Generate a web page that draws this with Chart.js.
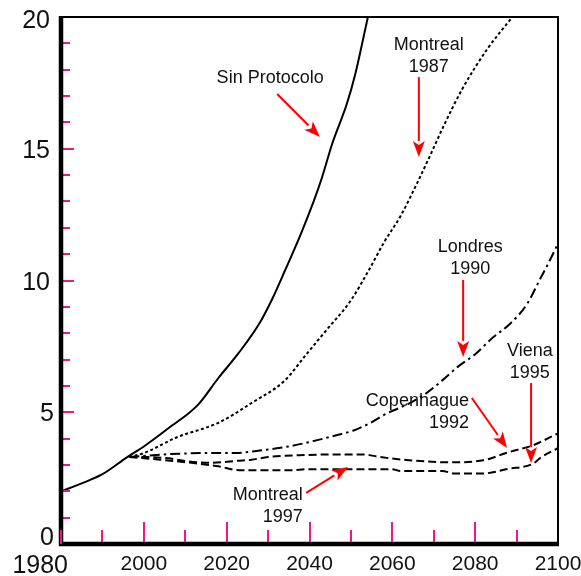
<!DOCTYPE html>
<html>
<head>
<meta charset="utf-8">
<script src="https://cdn.jsdelivr.net/npm/chart.js@4.4.1/dist/chart.umd.min.js"></script>
<style>
  html, body { margin: 0; padding: 0; background: #fff; }
  canvas { display: block; }
</style>
</head>
<body>
<canvas id="chart" width="581" height="576"></canvas>
<script>
// ===== DATA =====
const sinYears = [1980, 1985, 1990, 1996, 2000, 2006, 2013, 2018, 2023, 2028, 2031, 2034, 2038, 2041, 2043, 2045.5, 2049, 2051, 2054.1];
const sinVals  = [2.0, 2.3, 2.65, 3.3, 3.7, 4.4, 5.27, 6.3, 7.27, 8.4, 9.3, 10.35, 11.8, 13.0, 13.9, 15.2, 16.7, 17.8, 20];

const m87Years = [1996.5, 2000, 2008, 2018, 2026, 2034, 2039, 2044, 2050, 2054, 2058, 2062, 2066, 2069, 2072.5, 2077, 2083, 2089];
const m87Vals  = [3.3, 3.45, 4.05, 4.6, 5.35, 6.2, 7.15, 8.1, 9.25, 10.3, 11.45, 12.45, 13.7, 14.7, 15.9, 17.3, 18.8, 20];

const lonYears = [1996.5, 2005, 2015, 2022, 2028, 2033, 2039.5, 2046.5, 2050.5, 2054.5, 2058, 2064, 2068, 2072, 2076, 2080, 2084, 2088.5, 2092.5, 2095.5, 2097.5, 2100];
const lonVals  = [3.3, 3.4, 3.45, 3.45, 3.55, 3.65, 3.85, 4.13, 4.3, 4.58, 4.9, 5.33, 5.7, 6.2, 6.75, 7.2, 7.8, 8.37, 9.1, 10.0, 10.6, 11.4];

const copYears = [1996.5, 2000, 2006, 2010, 2016, 2022, 2026, 2030, 2037.5, 2049, 2053, 2057, 2064, 2074, 2082, 2088, 2094, 2100];
const copVals  = [3.3, 3.3, 3.25, 3.15, 3.08, 3.15, 3.2, 3.3, 3.37, 3.4, 3.4, 3.3, 3.18, 3.1, 3.18, 3.48, 3.75, 4.2];

const m97Years = [1996.5, 2004, 2012, 2018, 2023, 2035, 2040, 2060, 2062, 2072, 2075, 2082, 2088, 2094, 2096, 2100];
const m97Vals  = [3.3, 3.2, 3.07, 2.95, 2.8, 2.8, 2.84, 2.84, 2.77, 2.77, 2.68, 2.68, 2.85, 3.05, 3.3, 3.64];

const xTickLabels = ['1980', '2000', '2020', '2040', '2060', '2080', '2100'];
const yTickLabels = ['0', '5', '10', '15', '20'];

// annotations: text lines anchored in data units, arrow from -> to
const notes = [
  { text: ['Sin Protocolo'], at: [2030.5, 17.5], align: 'center', arrow: [[2032.2, 17.08], [2042.5, 15.45]] },
  { text: ['Montreal', '1987'], at: [2068.8, 18.75], align: 'center', arrow: [[2066.4, 17.72], [2066.4, 14.69]] },
  { text: ['Londres', '1990'], at: [2078.8, 11.08], align: 'center', arrow: [[2077.1, 10.02], [2077.1, 7.1]] },
  { text: ['Viena', '1995'], at: [2093.2, 7.13], align: 'center', arrow: [[2093.5, 6.11], [2093.5, 3.07]] },
  { text: ['Copenhague', '1992'], at: [2078.5, 5.24], align: 'right', arrow: [[2079.2, 5.54], [2087.7, 3.64]] },
  { text: ['Montreal', '1997'], at: [2038.4, 1.67], align: 'right', arrow: [[2039.2, 1.94], [2049.3, 2.92]] }
];

const FONT = '"Liberation Sans", Arial, sans-serif';
const PINK = '#f2148a';

function pts(years, vals) {
  return years.map((x, i) => ({ x: x, y: vals[i] }));
}

function line(years, vals, dash) {
  return {
    data: pts(years, vals),
    borderColor: '#000',
    borderWidth: 2,
    borderDash: dash,
    pointRadius: 0,
    fill: false,
    cubicInterpolationMode: 'monotone'
  };
}

// ===== FRAME, TICKS, LABELS, ARROWS =====
const decor = {
  id: 'decor',
  afterDatasetsDraw(chart) {
    const { ctx, chartArea: a, scales: { x, y } } = chart;
    ctx.save();

    // magenta ticks
    ctx.strokeStyle = PINK;
    ctx.lineWidth = 2;
    for (let v = 1; v < 20; v++) {
      const py = Math.round(y.getPixelForValue(v));
      ctx.beginPath();
      ctx.moveTo(a.left + 2, py);
      ctx.lineTo(a.left + (v % 5 === 0 ? 13 : 9), py);
      ctx.stroke();
    }

    // frame
    ctx.strokeStyle = '#000';
    ctx.lineWidth = 2;
    ctx.beginPath();
    ctx.moveTo(a.left, a.top);
    ctx.lineTo(a.right, a.top);
    ctx.lineTo(a.right, a.bottom);
    ctx.stroke();
    ctx.lineWidth = 4.5;
    ctx.beginPath();
    ctx.moveTo(a.left, a.top - 1);
    ctx.lineTo(a.left, a.bottom);
    ctx.lineTo(a.right + 1, a.bottom);
    ctx.stroke();

    ctx.strokeStyle = PINK;
    ctx.lineWidth = 2;
    for (let yr = 1980; yr < 2100; yr += 10) {
      const px = Math.round(x.getPixelForValue(yr));
      const major = yr % 20 === 0 && yr > 1980;
      ctx.beginPath();
      ctx.moveTo(px, a.bottom - (yr === 1980 ? 0 : 2));
      ctx.lineTo(px, a.bottom - (major ? 22 : 14));
      ctx.stroke();
    }

    // axis labels
    ctx.fillStyle = '#111';
    ctx.textBaseline = 'alphabetic';
    yTickLabels.forEach(t => {
      const v = Number(t);
      const py = y.getPixelForValue(v);
      ctx.font = '25px ' + FONT;
      ctx.textAlign = 'right';
      let by = py + 9;
      if (v === 0) by = a.bottom + 1;
      if (v === 20) by = py + 11;
      ctx.fillText(t, t.length > 1 ? a.left - 11 : a.left - 7, by);
    });
    xTickLabels.forEach(t => {
      const px = x.getPixelForValue(Number(t));
      if (t === '1980') {
        ctx.font = '25px ' + FONT;
        ctx.textAlign = 'right';
        ctx.fillText(t, px + 7, a.bottom + 29);
      } else {
        ctx.font = '21px ' + FONT;
        ctx.textAlign = 'center';
        ctx.fillText(t, px, a.bottom + 26);
      }
    });

    // annotations
    ctx.font = '18px ' + FONT;
    notes.forEach(n => {
      const tx = x.getPixelForValue(n.at[0]);
      const ty = y.getPixelForValue(n.at[1]);
      ctx.fillStyle = '#111';
      ctx.textAlign = n.align;
      n.text.forEach((s, i) => ctx.fillText(s, tx, ty + i * 22));

      const x1 = x.getPixelForValue(n.arrow[0][0]);
      const y1 = y.getPixelForValue(n.arrow[0][1]);
      const x2 = x.getPixelForValue(n.arrow[1][0]);
      const y2 = y.getPixelForValue(n.arrow[1][1]);
      const ang = Math.atan2(y2 - y1, x2 - x1);
      const len = 16, half = 6;
      const bx = x2 - Math.cos(ang) * len;
      const by = y2 - Math.sin(ang) * len;
      ctx.strokeStyle = '#ff0000';
      ctx.fillStyle = '#ff0000';
      ctx.lineWidth = 2;
      ctx.beginPath();
      ctx.moveTo(x1, y1);
      ctx.lineTo(bx, by);
      ctx.stroke();
      ctx.beginPath();
      ctx.moveTo(x2, y2);
      ctx.lineTo(bx - Math.sin(ang) * half, by + Math.cos(ang) * half);
      ctx.lineTo(x2 - Math.cos(ang) * (len - 4), y2 - Math.sin(ang) * (len - 4));
      ctx.lineTo(bx + Math.sin(ang) * half, by - Math.cos(ang) * half);
      ctx.closePath();
      ctx.fill();
    });

    ctx.restore();
  }
};

// ===== CHART =====
new Chart(document.getElementById('chart'), {
  type: 'line',
  data: {
    datasets: [
      line(sinYears, sinVals, []),
      line(m87Years, m87Vals, [3, 2.5]),
      line(lonYears, lonVals, [10, 4, 2.5, 4]),
      line(copYears, copVals, [8, 4]),
      line(m97Years, m97Vals, [8, 4])
    ]
  },
  options: {
    responsive: false,
    animation: false,
    devicePixelRatio: 1,
    layout: { padding: { left: 61, right: 23, top: 17, bottom: 32 } },
    plugins: { legend: { display: false }, tooltip: { enabled: false } },
    scales: {
      x: { type: 'linear', min: 1980, max: 2100, display: false },
      y: { min: 0, max: 20, display: false }
    }
  },
  plugins: [decor]
});
</script>
</body>
</html>
